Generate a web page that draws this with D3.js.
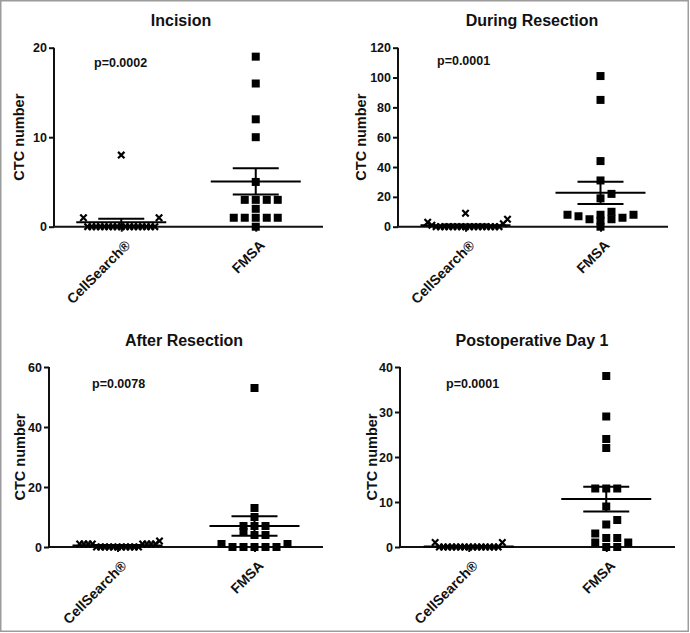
<!DOCTYPE html>
<html>
<head>
<meta charset="utf-8">
<script src="https://cdn.jsdelivr.net/npm/d3@7"></script>
<style>
  html, body { margin: 0; padding: 0; background: #fff; }
  svg { display: block; }
  text { font-family: "Liberation Sans", Arial, Helvetica, sans-serif; font-weight: bold; fill: #111; }
</style>
</head>
<body>
<svg id="chart" width="690" height="633"></svg>
<script>
// ---------- DATA ----------
const titles = ["Incision", "During Resection", "After Resection", "Postoperative Day 1"];
const pValues = ["p=0.0002", "p=0.0001", "p=0.0078", "p=0.0001"];
const groups = ["CellSearch®", "FMSA"];
const yMax = [20, 120, 60, 40];
const yTicks = [
  [0, 10, 20],
  [0, 20, 40, 60, 80, 100, 120],
  [0, 20, 40, 60],
  [0, 10, 20, 30, 40]
];
const yLabel = "CTC number";

const cellSearchIncision = [8, 1, 1, 0, 0, 0, 0, 0, 0, 0, 0, 0, 0, 0, 0, 0, 0, 0, 0, 0];
const fmsaIncision = [19, 16, 12, 10, 5, 3, 3, 3, 3, 2, 1, 1, 1, 1, 1, 0];

const cellSearchDuring = [9, 5, 3, 2, 1, 0, 0, 0, 0, 0, 0, 0, 0, 0, 0, 0, 0, 0, 0, 0, 0];
const fmsaDuring = [101, 85, 44, 31, 22, 19, 10, 7, 8, 4, 8, 8, 5, 5, 6, 0];

const cellSearchAfter = [2, 1, 1, 1, 1, 1, 1, 1, 1, 0, 0, 0, 0, 0, 0, 0, 0, 0, 0, 0];
const fmsaAfter = [53, 13, 10, 7, 7, 7, 5, 4, 4, 1, 1, 0, 0, 0, 0, 0];

const cellSearchPOD1 = [1, 1, 0, 0, 0, 0, 0, 0, 0, 0, 0, 0, 0, 0, 0, 0, 0];
const fmsaPOD1 = [38, 29, 24, 22, 13, 13, 13, 9, 6, 5, 3, 2, 2, 1, 1, 0, 0];

const cellSearchSeries = [cellSearchIncision, cellSearchDuring, cellSearchAfter, cellSearchPOD1];
const fmsaSeries = [fmsaIncision, fmsaDuring, fmsaAfter, fmsaPOD1];

// ---------- LAYOUT ----------
const layout = [
  { x0: 54,  x1: 323, yTop: 47.7, yBot: 226.7, titleX: 181, titleY: 26,    pX: 94,  pY: 66.5, labX: 18.5 },
  { x0: 398, x1: 668, yTop: 47.7, yBot: 226.7, titleX: 532, titleY: 26,    pX: 437, pY: 65,   labX: 360.5 },
  { x0: 49,  x1: 323, yTop: 367,  yBot: 547,   titleX: 184, titleY: 345.5, pX: 92,  pY: 388,  labX: 20 },
  { x0: 400, x1: 675, yTop: 367,  yBot: 547,   titleX: 532, titleY: 345.5, pX: 446, pY: 388,  labX: 371.5 }
];

const svg = d3.select("#chart");

svg.append("rect")
  .attr("x", 0.75).attr("y", 0.75).attr("width", 687.5).attr("height", 630.5)
  .attr("fill", "none").attr("stroke", "#9c9c9c").attr("stroke-width", 1.5);

// deterministic column beeswarm
function swarm(values, y, cx, step, h) {
  const sorted = values.slice().sort((a, b) => a - b);
  const placed = [];
  const order = [0];
  for (let k = 1; k < 40; k++) { order.push(k, -k); }
  sorted.forEach(v => {
    const py = y(v);
    for (const k of order) {
      const clash = placed.some(p => p.k === k && Math.abs(p.y - py) < h);
      if (!clash) { placed.push({ v, k, y: py, x: cx + k * step }); break; }
    }
  });
  return placed;
}

layout.forEach((L, i) => {
  const g = svg.append("g");
  const y = d3.scaleLinear().domain([0, yMax[i]]).range([L.yBot, L.yTop]);
  const x = d3.scalePoint().domain(groups).range([L.x0, L.x1]).padding(0.5);

  // title
  g.append("text").attr("x", L.titleX).attr("y", L.titleY)
    .attr("text-anchor", "middle").style("font-size", "16px").text(titles[i]);

  // p-value
  g.append("text").attr("x", L.pX).attr("y", L.pY)
    .style("font-size", "12.5px").text(pValues[i]);

  // y axis
  const yAxis = g.append("g").attr("transform", `translate(${L.x0},0)`)
    .call(d3.axisLeft(y).tickValues(yTicks[i]).tickSize(5).tickPadding(2).tickFormat(d3.format("d")));
  yAxis.select(".domain").attr("stroke", "#111").attr("stroke-width", 2)
    .attr("d", `M0,${L.yTop}V${L.yBot}`);
  yAxis.selectAll(".tick line").attr("stroke", "#111").attr("stroke-width", 2);
  yAxis.selectAll(".tick text").style("font-size", "12.5px").style("font-family", "Liberation Sans, Arial, sans-serif")
    .style("font-weight", "bold").attr("fill", "#111");

  // x axis
  const xAxis = g.append("g").attr("transform", `translate(0,${L.yBot})`)
    .call(d3.axisBottom(x).tickSize(5).tickPadding(0));
  xAxis.select(".domain").attr("stroke", "#111").attr("stroke-width", 2)
    .attr("d", `M${L.x0 - 1},0H${L.x1}`);
  xAxis.selectAll(".tick line").attr("stroke", "#111").attr("stroke-width", 2);
  xAxis.selectAll(".tick text")
    .attr("transform", "translate(6,16) rotate(-45)")
    .attr("y", 0).attr("x", 0).attr("dy", "0.35em")
    .attr("text-anchor", "end")
    .style("font-size", "14px").style("font-family", "Liberation Sans, Arial, sans-serif")
    .style("font-weight", "bold").attr("fill", "#111");

  // y label
  g.append("text")
    .attr("transform", `translate(${L.labX},${(L.yTop + L.yBot) / 2}) rotate(-90)`)
    .attr("text-anchor", "middle").attr("dy", "0.35em")
    .style("font-size", "14.5px").text(yLabel);

  // points: CellSearch (x markers)
  const cs = swarm(cellSearchSeries[i], y, x(groups[0]), 4.2, 10);
  const xs = 3.2;
  g.append("g").selectAll("path").data(cs).join("path")
    .attr("d", d => `M${d.x - xs},${d.y - xs}L${d.x + xs},${d.y + xs}M${d.x - xs},${d.y + xs}L${d.x + xs},${d.y - xs}`)
    .attr("stroke", "#000").attr("stroke-width", 2.2).attr("fill", "none");

  // points: FMSA (squares)
  const fm = swarm(fmsaSeries[i], y, x(groups[1]), 11, 5);
  const sq = 8;
  g.append("g").selectAll("rect").data(fm).join("rect")
    .attr("x", d => d.x - sq / 2).attr("y", d => d.y - sq / 2)
    .attr("width", sq).attr("height", sq).attr("fill", "#000");

  // mean ± SEM
  [cellSearchSeries[i], fmsaSeries[i]].forEach((vals, gi) => {
    const cx = x(groups[gi]);
    const m = d3.mean(vals);
    const sem = d3.deviation(vals) / Math.sqrt(vals.length);
    const eb = g.append("g").attr("stroke", "#000").attr("stroke-width", 2);
    eb.append("line").attr("x1", cx - 45).attr("x2", cx + 45).attr("y1", y(m)).attr("y2", y(m));
    eb.append("line").attr("x1", cx - 23).attr("x2", cx + 23).attr("y1", y(m + sem)).attr("y2", y(m + sem));
    eb.append("line").attr("x1", cx - 23).attr("x2", cx + 23).attr("y1", y(Math.max(0, m - sem))).attr("y2", y(Math.max(0, m - sem)));
    eb.append("line").attr("x1", cx).attr("x2", cx).attr("y1", y(m + sem)).attr("y2", y(Math.max(0, m - sem)));
  });
});
</script>
</body>
</html>
